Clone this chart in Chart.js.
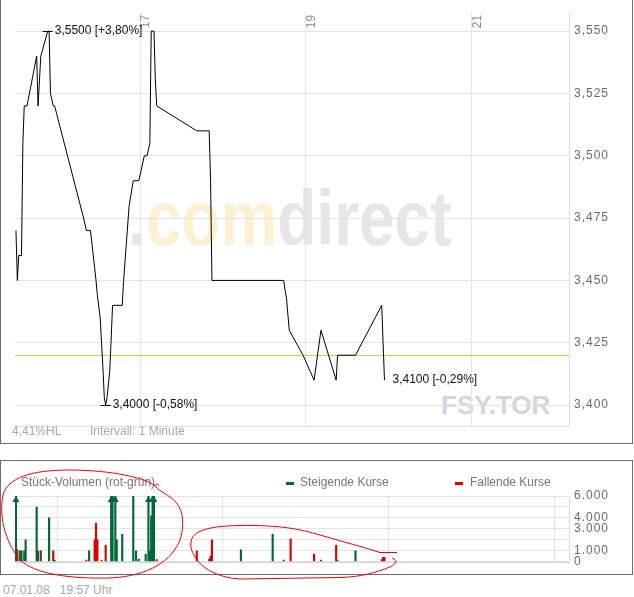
<!DOCTYPE html>
<html lang="de">
<head>
<meta charset="utf-8">
<title>FSY.TOR Intraday</title>
<script src="https://cdn.jsdelivr.net/npm/chart.js@4.4.1/dist/chart.umd.min.js"></script>
<style>
html,body{margin:0;padding:0;background:#fff;}
body{width:634px;height:597px;position:relative;overflow:hidden;font-family:Arial,"Liberation Sans",Helvetica,sans-serif;}
.abs{position:absolute;white-space:nowrap;}
#mainFrame{position:absolute;left:0;top:0;width:631px;height:443px;border-left:1px solid #6e6e6e;border-right:1px solid #6e6e6e;border-bottom:1px solid #6e6e6e;z-index:3;pointer-events:none;}
#volFrame{position:absolute;left:0;top:460px;width:631px;height:113px;border:1px solid #6e6e6e;z-index:3;pointer-events:none;}
#wm{left:128px;top:179px;font-weight:bold;font-size:78px;line-height:78px;transform:scaleX(0.82);transform-origin:0 0;z-index:0;}
.wg{color:#e7e7e7}.wy{color:#fdf1d4}
#sym{left:441px;top:392px;font-weight:bold;font-size:26px;line-height:26px;color:#d5d5d5;z-index:0;}
.small{font-size:12px;line-height:12px;z-index:2;}
.grey{color:#a8a8a8;}
.leg{color:#777;}
.mk{position:absolute;width:8px;height:3px;z-index:2;}
#c1{position:absolute;left:0;top:0;z-index:1;}
#c2{position:absolute;left:0;top:460px;z-index:1;}
#ink{position:absolute;left:0;top:0;z-index:4;pointer-events:none;}
</style>
</head>
<body>
<div id="wm" class="abs"><span class="wg">.</span><span class="wy">com</span><span class="wg">direct</span></div>
<div id="sym" class="abs">FSY.TOR</div>
<canvas id="c1" width="634" height="443"></canvas>
<div id="mainFrame"></div>
<div id="hl" class="abs small grey" style="left:12px;top:425px;"></div>
<div class="abs small grey" style="left:90px;top:425px;">Intervall: 1 Minute</div>

<canvas id="c2" width="634" height="114"></canvas>
<div id="volFrame"></div>
<div class="abs small leg" style="left:21px;top:476px;">Stück-Volumen (rot-grün)</div>
<div class="mk" style="left:286px;top:482px;background:#006838;"></div>
<div class="abs small leg" style="left:300px;top:476px;">Steigende Kurse</div>
<div class="mk" style="left:455px;top:482px;background:#dd0000;"></div>
<div class="abs small leg" style="left:470px;top:476px;">Fallende Kurse</div>

<div id="foot" class="abs small grey" style="left:3px;top:584px;"></div>

<svg id="ink" width="634" height="597" viewBox="0 0 634 597">
<path d="M157,488 C150,478 110,470 70,470 C30,470 8,478 3,495 C-1,515 4,540 20,560 C35,574 70,579 110,578 C150,576 172,560 180,540 C186,520 182,505 170,497 C163,492 158,490 155,486 C154,484 158,483 159,486" fill="none" stroke="#f00000" stroke-width="1"/>
<path d="M191,542 C192,532 205,526 240,525.5 C280,525 300,529 320,535 C340,541 360,546 380,552.5 L397,552.5 M392,558 C397,560 398,563 390,567 C375,573 360,577 340,577.5 L240,579 C220,578 205,570 197,560 C192,553 190,547 191,542" fill="none" stroke="#f00000" stroke-width="1"/>
</svg>

<script>
// ---------- data ----------
const tradeDate = "07.01.08";
const prevClose = 3.42;
const priceTimes = ["15:30","15:31","15:32","15:34","15:35","15:36","15:38","15:45","15:46","15:47","15:48","15:53","15:54","15:55","15:57","15:58",
  "16:19","16:21","16:24","16:28","16:29","16:31","16:33","16:34","16:35","16:36","16:38","16:40","16:47","16:48","16:52","16:55","16:59",
  "17:03","17:05","17:07","17:08","17:10","17:11","17:12","17:41","17:50","17:51","17:52",
  "18:44","18:45","18:46","18:48","18:58","19:06","19:11","19:22","19:23","19:36","19:55","19:56","19:57"];
const prices = [3.47,3.45,3.46,3.46,3.505,3.52,3.52,3.54,3.52,3.53,3.54,3.55,3.55,3.525,3.52,3.52,
  3.475,3.47,3.47,3.45,3.444,3.435,3.415,3.403,3.40,3.403,3.414,3.44,3.44,3.45,3.48,3.49,3.49,
  3.50,3.50,3.505,3.55,3.55,3.53,3.52,3.51,3.51,3.49,3.45,
  3.45,3.446,3.443,3.43,3.42,3.41,3.43,3.41,3.42,3.42,3.44,3.425,3.41];

const upTimes = ["15:30","15:33","15:34","15:36","15:37","15:45","15:48","15:54","15:58","16:23","16:32","16:39","16:40","16:42","16:43","16:47",
  "16:55","16:57","16:59","17:04","17:06","17:07","17:08","17:09","17:10","17:50","18:13","18:36","18:44","19:11","19:23","19:36","19:55"];
const upVolumes = [9500,1000,1000,1000,2000,5000,1000,4000,150,1000,150,8000,9000,7500,2000,2500,
  6000,1000,250,700,8000,1000,4200,9000,12000,250,1100,2500,150,150,150,1000,200];
const downTimes = ["15:31","15:46","15:57","16:21","16:27","16:28","16:29","16:35","17:12","17:41","17:51","17:52","18:49","19:06","19:22","19:56","19:57"];
const downVolumes = [1100,1000,1000,150,2000,3500,2000,1500,200,1000,500,2000,2100,700,1500,400,400];

const hourTicks = [17,19,21];
const priceTicks = [3.400,3.425,3.450,3.475,3.500,3.525,3.550];
const volTicks = [0,1000,2000,3000,4000,5000,6000];
const volTickLabels = [0,1000,3000,4000,6000];

// ---------- helpers ----------
const toMin = s => { const [h,m] = s.split(':').map(Number); return h*60+m; };
const fmtDE = (v,d) => v.toFixed(d).replace('.', ',');
const fmtK = v => String(v).replace(/\B(?=(\d{3})+(?!\d))/g, '.');
const pct = v => { const p = (v/prevClose-1)*100; return (p>=0?'+':'') + fmtDE(p,2) + '%'; };
const FONT = 'Arial, "Liberation Sans", sans-serif';
const X_MIN = 929.3, X_MAX = 1330.7;

const hi = Math.max(...prices), lo = Math.min(...prices);
document.getElementById('hl').textContent = fmtDE((hi-lo)/lo*100,2) + '%HL';
document.getElementById('foot').innerHTML = tradeDate + '&nbsp;&nbsp;&nbsp;' + priceTimes[priceTimes.length-1] + ' Uhr';

const spacing = { id:'spacing', beforeDraw(c){ c.ctx.letterSpacing='1px'; }, afterDraw(c){ c.ctx.letterSpacing='0px'; } };

const xScaleCfg = () => ({
  type:'linear', min:X_MIN, max:X_MAX,
  afterBuildTicks: s => { s.ticks = hourTicks.map(h => ({value:h*60})); },
  afterFit: s => { s.height = 0; },
  ticks:{display:false},
  grid:{color:'#e4e4e4', drawTicks:false},
  border:{display:true, color:'#dedede'}
});

const priceDeco = {
  id:'priceDeco',
  beforeDatasetsDraw(c){
    const {ctx, chartArea:a, scales:{y}} = c;
    const yy = Math.round(y.getPixelForValue(prevClose)) + 0.5;
    ctx.save(); ctx.strokeStyle = '#ecc440'; ctx.lineWidth = 1;
    ctx.beginPath(); ctx.moveTo(a.left, yy); ctx.lineTo(a.right, yy); ctx.stroke(); ctx.restore();
  },
  afterDraw(c){
    const {ctx, chartArea:a, scales:{x,y}} = c;
    ctx.save(); ctx.letterSpacing = '0px';
    ctx.font = '12px ' + FONT;
    // hour labels (rotated, inside the plot top)
    ctx.fillStyle = '#8a8a8a'; ctx.textAlign = 'left'; ctx.textBaseline = 'middle';
    x.ticks.forEach(t => {
      const px = x.getPixelForValue(t.value);
      ctx.save(); ctx.translate(px + 6, a.top + 16); ctx.rotate(-Math.PI/2);
      ctx.fillText(String(t.value/60), 0, 0); ctx.restore();
    });
    // high / low / last annotations
    const iHi = prices.indexOf(hi), iLo = prices.indexOf(lo), iLast = prices.length-1;
    ctx.fillStyle = '#111'; ctx.strokeStyle = '#000'; ctx.lineWidth = 1;
    [[iHi,true],[iLo,true],[iLast,false]].forEach(([i,tick]) => {
      const px = x.getPixelForValue(toMin(priceTimes[i])), py = y.getPixelForValue(prices[i]);
      const yy = Math.round(py) + 0.5;
      if (tick) { ctx.beginPath(); ctx.moveTo(px-5, yy); ctx.lineTo(px+5, yy); ctx.stroke(); }
      ctx.fillText(fmtDE(prices[i],4) + ' [' + pct(prices[i]) + ']', px + (tick ? 7 : 8), py);
    });
    ctx.restore();
  }
};

new Chart(document.getElementById('c1'), {
  type:'line',
  data:{ datasets:[{
    label:'Kurs',
    data: priceTimes.map((t,i) => ({x:toMin(t), y:prices[i]})),
    borderColor:'#000', borderWidth:1, pointRadius:0, tension:0, fill:false
  }]},
  options:{
    responsive:false, animation:false, events:[],
    layout:{padding:{left:15, right:0, top:11, bottom:17}},
    plugins:{legend:{display:false}, tooltip:{enabled:false}},
    scales:{
      x: xScaleCfg(),
      y:{
        position:'right', min:3.3916, max:3.5576,
        afterBuildTicks: s => { s.ticks = priceTicks.map(v => ({value:v})); },
        afterFit: s => { s.width = 65; },
        grid:{color:'#e4e4e4', drawTicks:false},
        border:{display:true, color:'#dedede'},
        ticks:{padding:5, color:'#6a6a6a', autoSkip:false, font:{family:FONT, size:12}, callback:v => fmtDE(v,3)}
      }
    }
  },
  plugins:[spacing, priceDeco]
});

const volDeco = {
  id:'volDeco',
  afterDatasetsDraw(c){
    const {ctx, chartArea:a, scales:{y}} = c;
    ctx.save();
    c.data.datasets.forEach((ds, i) => {
      const meta = c.getDatasetMeta(i);
      meta.data.forEach((bar, j) => {
        if (ds.data[j].y > y.max) {
          ctx.fillStyle = ds.backgroundColor;
          ctx.beginPath(); ctx.moveTo(bar.x, a.top); ctx.lineTo(bar.x-3.5, a.top+6); ctx.lineTo(bar.x+3.5, a.top+6); ctx.closePath(); ctx.fill();
        }
      });
    });
    ctx.restore();
  }
};

new Chart(document.getElementById('c2'), {
  type:'bar',
  data:{ datasets:[
    {label:'Steigende Kurse', data: upTimes.map((t,i) => ({x:toMin(t), y:upVolumes[i]})), backgroundColor:'#006838', barThickness:1.5, grouped:false},
    {label:'Fallende Kurse', data: downTimes.map((t,i) => ({x:toMin(t), y:downVolumes[i]})), backgroundColor:'#dd0000', barThickness:1.5, grouped:false}
  ]},
  options:{
    responsive:false, animation:false, events:[],
    layout:{padding:{left:15, right:0, top:36, bottom:12}},
    plugins:{legend:{display:false}, tooltip:{enabled:false}},
    scales:{
      x: Object.assign(xScaleCfg(), {offset:false}),
      y:{
        position:'right', min:0, max:6000,
        afterBuildTicks: s => { s.ticks = volTicks.map(v => ({value:v})); },
        afterFit: s => { s.width = 65; },
        grid:{drawTicks:false, color: ctx => ctx.tick && ctx.tick.value === 0 ? '#d6d6d6' : '#e4e4e4', lineWidth: ctx => ctx.tick && ctx.tick.value === 0 ? 2 : 1},
        border:{display:true, color:'#dedede'},
        ticks:{padding:5, color:'#6a6a6a', autoSkip:false, font:{family:FONT, size:12},
          callback:v => volTickLabels.includes(v) ? fmtK(v) : ''}
      }
    }
  },
  plugins:[spacing, volDeco]
});
</script>
</body>
</html>
